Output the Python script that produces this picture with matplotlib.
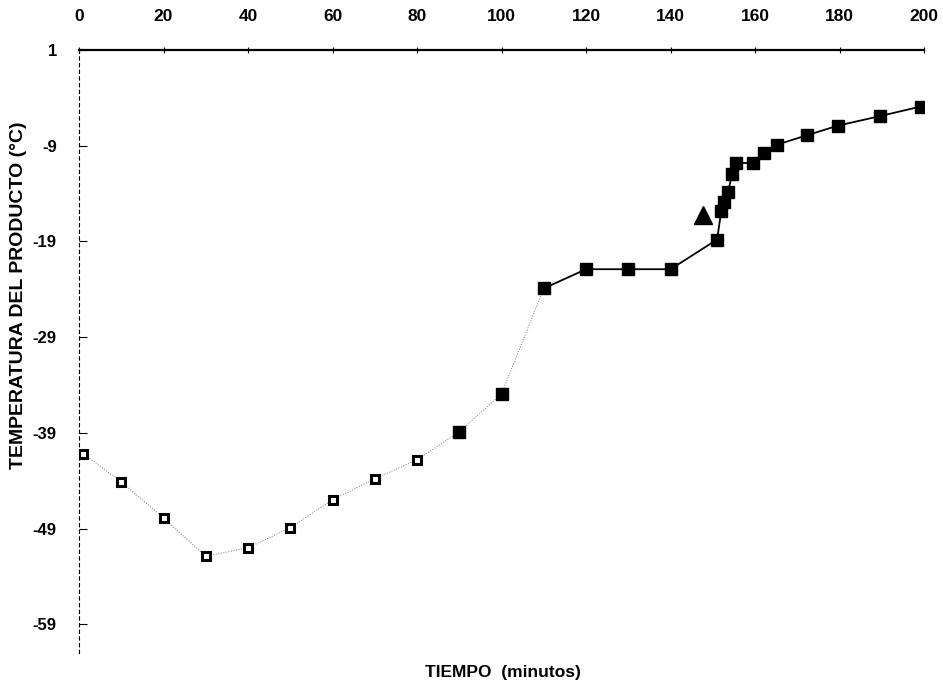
import numpy as np
import matplotlib
matplotlib.use('Agg')
import matplotlib.pyplot as plt

plt.rcParams['font.family'] = ['Liberation Sans', 'DejaVu Sans']

# datos
tiempo = [1, 10, 20, 30, 40, 50, 60, 70, 80, 90, 100, 110, 120, 130, 140,
          151, 152, 152.6, 153.6, 154.6, 155.5, 159.4, 162.2, 165.1, 172.3,
          179.6, 189.6, 199.2]
temperatura = [-41.2, -44.1, -47.9, -51.9, -51.0, -48.9, -46.0, -43.8, -41.8,
               -38.9, -34.9, -23.9, -21.9, -21.9, -21.9, -18.8, -15.8, -14.9,
               -13.8, -11.9, -10.8, -10.8, -9.8, -8.9, -7.9, -6.9, -5.9, -4.9]
triangulo_t = [147.6]
triangulo_temp = [-16.2]

x_ticks = [0, 20, 40, 60, 80, 100, 120, 140, 160, 180, 200]
y_ticks = [1, -9, -19, -29, -39, -49, -59]

t = np.array(tiempo)
T = np.array(temperatura)

fig = plt.figure(figsize=(9.43, 6.93), dpi=100)
ax = fig.add_axes([0.0838, 0.0577, 0.8962, 0.8701])

# tramo inicial (línea punteada tenue) y tramo final (línea continua)
ini = t <= 110
fin = t >= 110
ax.plot(t[ini], T[ini], color='0.45', lw=0.7, ls=':', zorder=1)
ax.plot(t[fin], T[fin], color='black', lw=1.3, zorder=1)

# marcadores: los primeros algo huecos, los demás rellenos
hueco = t <= 80
ax.plot(t[hueco], T[hueco], ls='none', marker='s', ms=6,
        mfc='white', mec='black', mew=2.2, zorder=3)
ax.plot(t[~hueco], T[~hueco], ls='none', marker='s', ms=8.5,
        mfc='black', mec='black', zorder=3)
ax.plot(triangulo_t, triangulo_temp, ls='none', marker='^', ms=13,
        color='black', zorder=3)

ax.set_xlim(0, 200)
ax.set_ylim(-62, 1)
ax.set_xticks(x_ticks)
ax.set_yticks(y_ticks)
ax.set_yticklabels([str(v) for v in y_ticks])

ax.xaxis.tick_top()
ax.tick_params(axis='x', direction='inout', length=5, width=0.8,
               labelsize=12.5, pad=16)
ax.tick_params(axis='y', direction='in', length=6, width=0.8,
               labelsize=12, pad=16)
for lab in ax.get_xticklabels() + ax.get_yticklabels():
    lab.set_fontweight('bold')

ax.spines['right'].set_visible(False)
ax.spines['bottom'].set_visible(False)
ax.spines['top'].set_linewidth(1.6)
ax.spines['left'].set_linewidth(0.8)
ax.spines['left'].set_linestyle((0, (3, 3)))

ax.set_ylabel('TEMPERATURA DEL PRODUCTO (°C)', fontsize=14,
              fontweight='bold')
ax.yaxis.set_label_coords(-0.062, 0.594)
fig.text(0.533, 0.030, 'TIEMPO  (minutos)', ha='center', va='center',
         fontsize=12.5, fontweight='bold')

plt.savefig('out.png', dpi=100)
